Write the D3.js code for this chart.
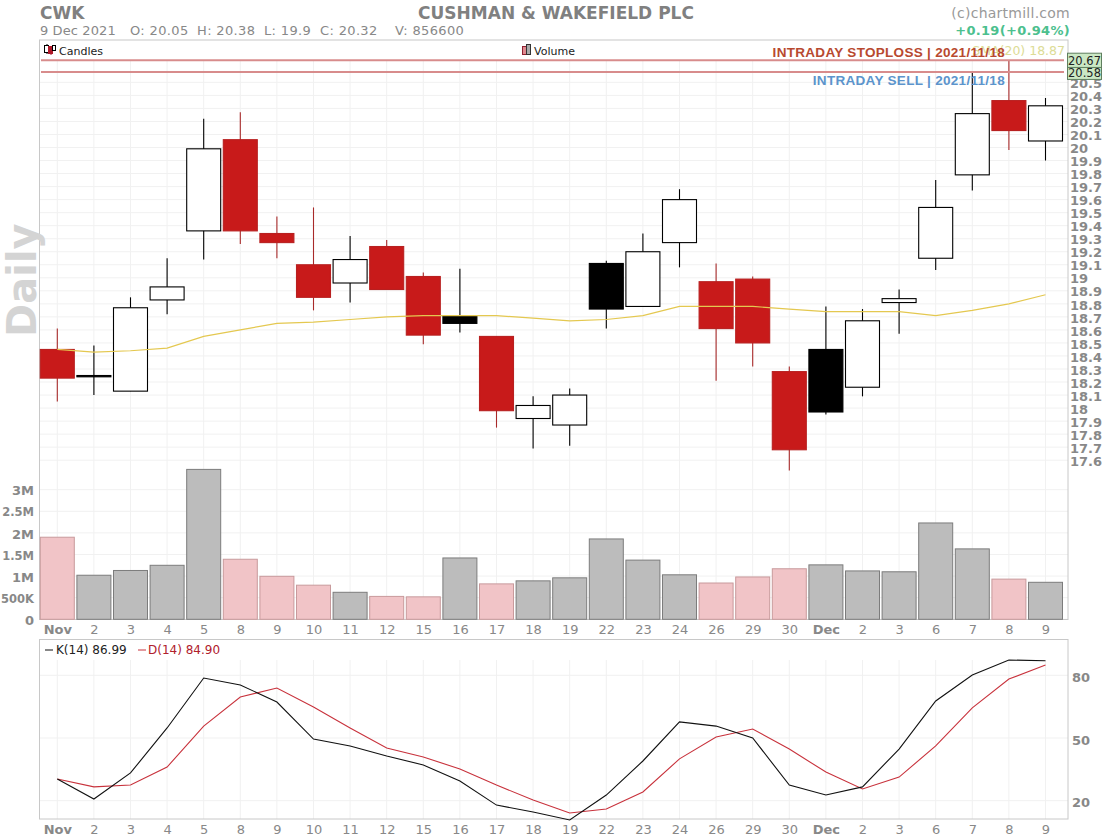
<!DOCTYPE html>
<html><head><meta charset="utf-8">
<script src="https://cdn.jsdelivr.net/npm/d3@7"></script>
<style>
html,body{margin:0;padding:0;background:#fff}
svg{display:block}
text{font-family:"DejaVu Sans",sans-serif}
.ax path,.ax line{display:none}
.ax text{fill:#888}
</style></head><body><div id="c"></div>
<script>
const dateKeys=["11-01","11-02","11-03","11-04","11-05","11-08","11-09","11-10","11-11","11-12","11-15","11-16","11-17","11-18","11-19","11-22","11-23","11-24","11-26","11-29","11-30","12-01","12-02","12-03","12-06","12-07","12-08","12-09"];
const dayLabels=["Nov","2","3","4","5","8","9","10","11","12","15","16","17","18","19","22","23","24","26","29","30","Dec","2","3","6","7","8","9"];
const opens=[18.45,18.25,18.13,18.83,19.36,20.06,19.34,19.10,18.96,19.24,19.01,18.71,18.55,17.92,17.87,19.11,18.78,19.27,18.97,18.99,18.28,18.45,18.16,18.81,19.15,19.79,20.36,20.05];
const highs=[18.61,18.48,18.85,19.15,20.22,20.27,19.47,19.54,19.32,19.29,19.04,19.07,18.55,18.09,18.15,19.13,19.34,19.68,19.11,19.01,18.32,18.78,18.76,18.91,19.75,20.58,20.67,20.38];
const lows=[18.05,18.10,18.13,18.72,19.14,19.26,19.15,18.75,18.81,18.91,18.49,18.58,17.85,17.69,17.71,18.61,18.78,19.08,18.21,18.32,17.52,17.95,18.09,18.57,19.06,19.67,19.98,19.90];
const closes=[18.23,18.24,18.77,18.93,19.99,19.36,19.27,18.85,19.14,18.91,18.56,18.65,17.98,18.02,18.10,18.76,19.20,19.60,18.61,18.50,17.68,17.97,18.67,18.84,19.54,20.26,20.13,20.32];
const sma20=[18.45,18.43,18.44,18.46,18.55,18.60,18.65,18.66,18.68,18.70,18.71,18.71,18.71,18.69,18.67,18.68,18.71,18.78,18.78,18.78,18.76,18.74,18.74,18.74,18.71,18.75,18.80,18.87];
const volumes=[1.90,1.02,1.13,1.25,3.47,1.39,0.995,0.79,0.625,0.53,0.52,1.42,0.82,0.89,0.96,1.86,1.37,1.03,0.84,0.98,1.17,1.26,1.12,1.10,2.23,1.63,0.93,0.8566];
const stochK=[30.4,20.8,33.3,54.8,78.7,75.4,67.2,49.5,46.2,41.4,37.1,29.4,17.9,14.6,10.8,22.7,39.0,57.7,55.7,50,27.5,22.7,26.6,44.7,67.7,80.1,87.3,86.99];
const stochD=[30.4,26.6,27.5,36.1,55.7,69.6,73.9,64.8,54.8,45.2,40.9,35.2,27.5,20.3,14.1,16.0,24.2,40.0,50.5,54.3,44.7,33.7,25.6,31.3,46.2,64.4,78.2,84.9];
const priceTicks=[20.5,20.4,20.3,20.2,20.1,20,19.9,19.8,19.7,19.6,19.5,19.4,19.3,19.2,19.1,19,18.9,18.8,18.7,18.6,18.5,18.4,18.3,18.2,18.1,18,17.9,17.8,17.7,17.6];
const volumeTicks=[0,0.5,1,1.5,2,2.5,3];
const volumeLabels=["0","500K","1M","1.5M","2M","2.5M","3M"];
const stochTicks=[20,50,80];
const levels=[20.67,20.58];

const W=1109,H=840,L=39.5,R=1068;
const svg=d3.select("#c").append("svg").attr("width",W).attr("height",H);
const x=d3.scalePoint().domain(dateKeys).range([57.3,1045.5]);
const yP=d3.scaleLinear().domain([17.6,20]).range([460.2,147.5]);
const yV=d3.scaleLinear().domain([0,3]).range([619.3,489.7]);
const yS=d3.scaleLinear().domain([20,80]).range([800.7,675.3]);
const grid="#f1f1f1", border="#c8c8c8";

// grids
const g=svg.append("g").attr("stroke",grid).attr("stroke-width",1);
g.selectAll(".v1").data(dateKeys).join("line").attr("x1",d=>x(d)).attr("x2",d=>x(d)).attr("y1",60).attr("y2",619);
g.selectAll(".v2").data(dateKeys).join("line").attr("x1",d=>x(d)).attr("x2",d=>x(d)).attr("y1",660).attr("y2",819);
g.selectAll(".h1").data(priceTicks).join("line").attr("x1",L).attr("x2",R).attr("y1",d=>yP(d)).attr("y2",d=>yP(d));
g.selectAll(".h2").data(volumeTicks).join("line").attr("x1",L).attr("x2",R).attr("y1",d=>yV(d)).attr("y2",d=>yV(d));
g.selectAll(".h3").data(stochTicks).join("line").attr("x1",L).attr("x2",R).attr("y1",d=>yS(d)).attr("y2",d=>yS(d));

// panels
svg.append("rect").attr("x",L).attr("y",40).attr("width",R-L).attr("height",579.5).attr("fill","none").attr("stroke",border);
svg.append("rect").attr("x",L).attr("y",639.5).attr("width",R-L).attr("height",179.5).attr("fill","none").attr("stroke",border);

// volume
const falling=i=>i===0||closes[i]<closes[i-1];
svg.append("g").selectAll("rect").data(volumes).join("rect")
 .attr("x",(d,i)=>x(dateKeys[i])-17).attr("width",34)
 .attr("y",d=>yV(d)).attr("height",d=>yV(0)-yV(d))
 .attr("fill",(d,i)=>falling(i)?"#f1c4c7":"#bcbcbc")
 .attr("stroke",(d,i)=>falling(i)?"#c89a9c":"#7c7c7c").attr("stroke-width",1);

// candles
const isRed=i=>closes[i]<opens[i]&&!(i>0&&closes[i]>closes[i-1]);
const candleFill=i=>closes[i]>=opens[i]?"#fff":(isRed(i)?"#c81a1a":"#000");
const cg=svg.append("g");
cg.selectAll("line").data(dateKeys).join("line")
 .attr("x1",d=>x(d)).attr("x2",d=>x(d))
 .attr("y1",(d,i)=>yP(highs[i])).attr("y2",(d,i)=>yP(lows[i]))
 .attr("stroke",(d,i)=>isRed(i)?"#a82a2a":"#000").attr("stroke-width",1.1);
cg.selectAll("rect").data(dateKeys).join("rect")
 .attr("x",d=>x(d)-17).attr("width",34)
 .attr("y",(d,i)=>yP(Math.max(opens[i],closes[i])))
 .attr("height",(d,i)=>Math.max(1,Math.abs(yP(opens[i])-yP(closes[i]))))
 .attr("fill",(d,i)=>candleFill(i)).attr("stroke",(d,i)=>isRed(i)?"#b82020":"#000").attr("stroke-width",1.1);

// sma, over the candles
svg.append("path").datum(sma20).attr("fill","none").attr("stroke","#e4c850").attr("stroke-width",1.2)
 .attr("d",d3.line().x((d,i)=>x(dateKeys[i])).y(d=>yP(d)));

// level lines
svg.append("g").selectAll("line").data(levels).join("line")
 .attr("x1",41).attr("x2",1064).attr("y1",d=>yP(d)).attr("y2",d=>yP(d))
 .attr("stroke","#d88c8c").attr("stroke-width",2);

// axes
const price=svg.append("g").attr("class","ax").attr("transform",`translate(1066,1)`)
 .call(d3.axisRight(yP).tickValues(priceTicks).tickSize(0).tickPadding(4).tickFormat(d=>String(d)));
price.selectAll("text").attr("font-size",13).attr("font-weight",600);
const vol=svg.append("g").attr("class","ax").attr("transform",`translate(38,1)`)
 .call(d3.axisLeft(yV).tickValues(volumeTicks).tickSize(0).tickPadding(4).tickFormat((d,i)=>volumeLabels[i]));
vol.selectAll("text").attr("font-size",d=>(d===0.5||d===1.5||d===2.5)?11.5:13).attr("font-weight",600);
const sto=svg.append("g").attr("class","ax").attr("transform",`translate(1066,2)`)
 .call(d3.axisRight(yS).tickValues(stochTicks).tickSize(0).tickPadding(6));
sto.selectAll("text").attr("font-size",13).attr("font-weight",600);
[622,822].forEach(t=>{
 const a=svg.append("g").attr("class","ax").attr("transform",`translate(0,${t})`)
  .call(d3.axisBottom(x).tickSize(0).tickPadding(3).tickFormat((d,i)=>dayLabels[i]));
 a.selectAll("text").attr("font-size",13).attr("font-weight",(d,i)=>/[A-Z]/.test(dayLabels[i])?700:400);
});

// stochastic lines
const sl=d3.line().x((d,i)=>x(dateKeys[i])).y(d=>yS(d));
svg.append("path").datum(stochD).attr("fill","none").attr("stroke","#c8323c").attr("stroke-width",1.1).attr("d",sl);
svg.append("path").datum(stochK).attr("fill","none").attr("stroke","#111").attr("stroke-width",1.1).attr("d",sl);

// texts
const T=(s,xx,yy,size,fill,o={})=>svg.append("text").text(s).attr("x",xx).attr("y",yy).attr("font-size",size).attr("fill",fill)
 .attr("font-weight",o.w||400).attr("text-anchor",o.a||"start").attr("letter-spacing",o.ls||0);
T("CWK",40,19,17,"#808080",{w:700});
T("CUSHMAN & WAKEFIELD PLC",556,19,17,"#808080",{w:700,a:"middle"});
T("9 Dec 2021",40,35,13,"#888",{ls:.1});
T("O: 20.05",130,35,13,"#888",{ls:.35});
T("H: 20.38",197,35,13,"#888",{ls:.35});
T("L: 19.9",264,35,13,"#888",{ls:.35});
T("C: 20.32",320,35,13,"#888",{ls:.35});
T("V: 856600",395,35,13,"#888",{ls:.35});
T("(c)chartmill.com",1070,18,14,"#999",{a:"end",ls:.25});
T("+0.19(+0.94%)",1070,35,13,"#4cc08e",{a:"end",w:700,ls:.3});
T("SMA(20) 18.87",1065,55,12.5,"#dcdc96",{a:"end"});
T("INTRADAY STOPLOSS | 2021/11/18",1005,57,13.5,"#b8492f",{a:"end",w:700,ls:.3}).style("font-family","'Liberation Sans',sans-serif");
T("INTRADAY SELL | 2021/11/18",1005,85,13.5,"#5c94cc",{a:"end",w:700,ls:.3}).style("font-family","'Liberation Sans',sans-serif");
T("Candles",59,55,11,"#222");
T("Volume",534,55,11,"#222");
T("K(14) 86.99",56,654,12,"#222");
T("D(14) 84.90",148,654,12,"#b0202c");
svg.append("text").text("Daily").attr("transform","translate(36,337) rotate(-90)").attr("font-size",40).attr("font-weight",700).attr("fill","#d4d4d4");

// legend glyphs
const lg=svg.append("g");
lg.append("line").attr("x1",47).attr("x2",47).attr("y1",44).attr("y2",54).attr("stroke","#000");
lg.append("rect").attr("x",44.5).attr("y",45.5).attr("width",4).attr("height",7).attr("fill","#fff").attr("stroke","#000");
lg.append("line").attr("x1",51).attr("x2",51).attr("y1",47).attr("y2",55).attr("stroke","#b01a2a");
lg.append("rect").attr("x",48.5).attr("y",46.5).attr("width",4).attr("height",7).attr("fill","#b01a2a").attr("stroke","#b01a2a");
lg.append("rect").attr("x",52.5).attr("y",45.5).attr("width",3).attr("height",5).attr("fill","#fff").attr("stroke","#000");
lg.append("rect").attr("x",522.5).attr("y",46.5).attr("width",4).attr("height",8).attr("fill","#e08a90").attr("stroke","#902030");
lg.append("rect").attr("x",526.5).attr("y",44.5).attr("width",4).attr("height",10).attr("fill","#aaa").attr("stroke","#333");
lg.append("line").attr("x1",45).attr("x2",53).attr("y1",650).attr("y2",650).attr("stroke","#111");
lg.append("line").attr("x1",138).attr("x2",146).attr("y1",650).attr("y2",650).attr("stroke","#c8323c");

// level tags
const tag=svg.append("g").selectAll("g").data(levels).join("g");
tag.append("rect").attr("x",1067.5).attr("width",34).attr("height",d=>d===levels[0]?14.5:12)
 .attr("y",d=>d===levels[0]?yP(d)-7:yP(d)-4.5).attr("fill","#cbe8c4").attr("stroke","#5f7f5f");
tag.append("text").text(d=>d.toFixed(2)).attr("x",1084.5).attr("y",d=>d===levels[0]?yP(d)+4.5:yP(d)+5.5).attr("text-anchor","middle").attr("font-size",11.5).attr("fill","#222");
</script></body></html>
